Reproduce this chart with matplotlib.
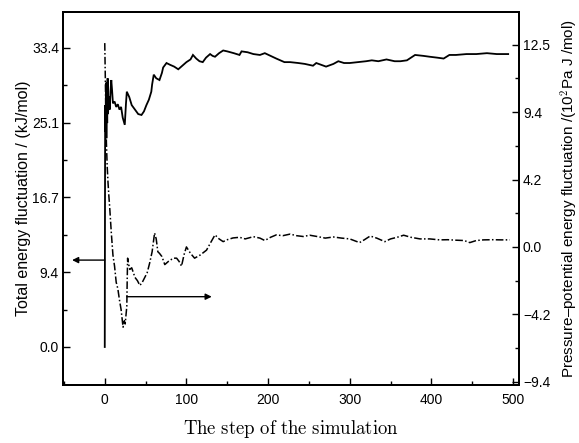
import matplotlib
matplotlib.use("Agg")
import matplotlib.pyplot as plt
from matplotlib.ticker import MultipleLocator, FixedLocator

plt.rcParams["font.family"] = ["Liberation Sans", "DejaVu Sans"]
plt.rcParams["mathtext.fontset"] = "cm"

# total energy fluctuation (left axis, kJ/mol)
steps_e = [0, 0.5, 1, 1.5, 2, 2.5, 3, 3.5, 4, 5, 6, 7, 8, 9, 10, 12, 14, 16, 18, 20,
           22, 24.5, 26, 27, 30, 33, 37, 41, 45, 48, 51, 54, 57, 58, 60, 63, 67, 70,
           71.5, 75.6, 80, 85, 90, 95, 100, 105, 108, 112, 116, 120, 124, 129, 132,
           135, 140, 145, 150, 158, 165, 167.5, 175, 182, 190, 196, 203, 210, 220,
           227, 237, 245, 255, 259, 265, 271, 280, 286, 293, 300, 310, 320, 327, 335,
           345, 355, 362, 370, 375, 380, 390, 398, 407, 415, 422, 430, 443, 455, 468,
           480, 494]
energy = [0.0, 27.0, 24.0, 29.5, 23.3, 28.0, 25.0, 30.0, 26.0, 28.0, 26.5, 28.5, 29.8,
          28.6, 27.2, 27.4, 26.8, 27.1, 26.5, 26.8, 25.6, 24.8, 27.2, 28.5, 27.9, 27.0,
          26.5, 26.0, 25.9, 26.3, 27.0, 27.6, 28.5, 29.3, 30.4, 30.0, 29.8, 30.6, 31.2,
          31.7, 31.5, 31.3, 31.0, 31.4, 31.8, 32.1, 32.6, 32.2, 31.9, 31.8, 32.3, 32.7,
          32.5, 32.4, 32.8, 33.1, 33.0, 32.8, 32.6, 33.0, 32.9, 32.7, 32.6, 32.8, 32.5,
          32.2, 31.8, 31.8, 31.7, 31.6, 31.4, 31.7, 31.5, 31.3, 31.6, 31.9, 31.7, 31.7,
          31.8, 31.9, 32.0, 31.9, 32.1, 31.9, 31.9, 32.0, 32.3, 32.6, 32.5, 32.4, 32.3,
          32.2, 32.6, 32.6, 32.7, 32.7, 32.8, 32.7, 32.7]

# pressure-potential energy fluctuation (right axis)
steps_p = [0, 1, 2, 3, 4, 5, 6, 8, 10, 12, 14, 16, 18, 20, 22.4, 24, 25, 27, 27.5, 28,
           29, 30.6, 33, 37, 40, 43, 46, 49, 52, 55, 58, 61, 63, 65, 67, 70, 73.5, 78,
           84, 88, 91, 94, 97, 100, 105, 110, 117, 124.6, 130, 135, 140, 145, 150, 157,
           165, 172, 182, 190, 196, 203, 210, 218, 227, 235, 243, 251, 260, 270, 280,
           290, 300, 312, 318, 325, 333, 343, 350, 358, 366, 375, 386, 398, 410, 420,
           430, 440, 447, 455, 464, 475, 485, 496]
pressure = [12.7, 9.5, 6.5, 5.0, 4.0, 3.2, 2.5, 0.9, -0.5, -1.2, -2.2, -2.6, -3.3, -3.9,
            -5.0, -4.6, -4.8, -3.7, -2.0, -0.7, -1.0, -1.4, -1.3, -1.9, -2.1, -2.4, -2.2,
            -1.9, -1.6, -1.0, -0.3, 0.87, 0.5, -0.3, -0.4, -0.6, -1.1, -0.9, -0.7, -0.7,
            -0.9, -1.2, -0.5, 0.0, -0.4, -0.7, -0.5, -0.2, 0.3, 0.75, 0.5, 0.33, 0.45,
            0.56, 0.6, 0.5, 0.64, 0.55, 0.4, 0.6, 0.75, 0.7, 0.8, 0.7, 0.65, 0.73, 0.65,
            0.55, 0.62, 0.55, 0.5, 0.27, 0.45, 0.68, 0.55, 0.33, 0.5, 0.6, 0.73, 0.6, 0.5,
            0.5, 0.44, 0.45, 0.42, 0.4, 0.27, 0.4, 0.44, 0.45, 0.44, 0.44]

left_ticks = [0, 8.35, 16.7, 25.05, 33.4]
left_labels = ["0.0", "9.4", "16.7", "25.1", "33.4"]
right_ticks = [-8.4, -4.2, 0, 4.2, 8.4, 12.6]
right_labels = ["\u22129.4", "\u22124.2", "0.0", "4.2", "9.4", "12.5"]

# arrows pointing to the axis each curve belongs to
arrow_left = ((0, 9.7), (-40, 9.7))
arrow_right = ((27, -3.1), (131, -3.1))

fig = plt.figure(figsize=(5.79, 4.43), dpi=100)
ax = fig.add_axes([0.109, 0.131, 0.787, 0.842])
ax2 = ax.twinx()

ax.plot(steps_e, energy, color="black", lw=1.3, solid_joinstyle="miter")
ax2.plot(steps_p, pressure, color="black", lw=1.1, linestyle=(0, (5, 1.5, 1, 1.5)))

ax.set_xlim(-51, 507)
ax.set_ylim(-4.24, 37.4)
ax2.set_ylim(-8.6, 14.64)

ax.set_xticks([0, 100, 200, 300, 400, 500])
ax.xaxis.set_minor_locator(MultipleLocator(50))
ax.set_yticks(left_ticks)
ax.set_yticklabels(left_labels)
ax.yaxis.set_minor_locator(FixedLocator([4.175, 12.525, 20.875, 29.225]))
ax2.set_yticks(right_ticks)
ax2.set_yticklabels(right_labels)
ax2.yaxis.set_minor_locator(FixedLocator([-6.3, -2.1, 2.1, 6.3, 10.5]))

for a in (ax, ax2):
    a.tick_params(which="major", direction="in", length=5, width=1, labelsize=10, pad=3)
    a.tick_params(which="minor", direction="in", length=3, width=1)
    for s in a.spines.values():
        s.set_linewidth(1.4)
ax.tick_params(axis="x", pad=6)

ax.annotate("", xy=arrow_left[1], xytext=arrow_left[0],
            arrowprops=dict(arrowstyle="-|>", color="black", lw=1, mutation_scale=9,
                            shrinkA=0, shrinkB=0))
ax2.annotate("", xy=arrow_right[1], xytext=arrow_right[0],
             arrowprops=dict(arrowstyle="-|>", color="black", lw=1, mutation_scale=9,
                             shrinkA=0, shrinkB=0))

ax.set_xlabel(r"$\mathrm{The\ step\ of\ the\ simulation}$", fontsize=13.5, labelpad=8)
ax.set_ylabel("Total energy fluctuation / (kJ/mol)", fontsize=11.5, labelpad=1)
ax2.set_ylabel("Pressure\u2013potential energy fluctuation /(10$^2$Pa J /mol)",
               fontsize=11, labelpad=6)

fig.savefig("out.png", dpi=100)
